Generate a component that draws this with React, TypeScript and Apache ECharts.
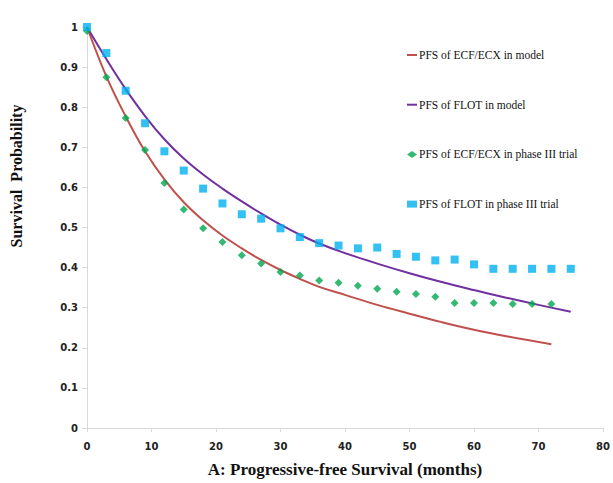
import React, { useEffect, useRef } from "react";
import * as echarts from "echarts";

const ecfModelMonths = [0, 3, 6, 9, 12, 15, 18, 21, 24, 27, 30, 33, 36, 40, 45, 50, 55, 60, 65, 72];
const ecfModelValues = [1.0, 0.877, 0.777, 0.69, 0.62, 0.563, 0.518, 0.48, 0.448, 0.419, 0.394, 0.372, 0.352, 0.332, 0.307, 0.285, 0.264, 0.245, 0.229, 0.209];

const flotModelMonths = [0, 3, 6, 9, 12, 15, 18, 21, 24, 27, 30, 33, 36, 40, 45, 50, 55, 60, 65, 70, 75];
const flotModelValues = [1.0, 0.92, 0.845, 0.778, 0.72, 0.672, 0.632, 0.597, 0.565, 0.535, 0.507, 0.482, 0.46, 0.436, 0.41, 0.386, 0.364, 0.344, 0.325, 0.307, 0.29];

const ecfTrialMonths = [0, 3, 6, 9, 12, 15, 18, 21, 24, 27, 30, 33, 36, 39, 42, 45, 48, 51, 54, 57, 60, 63, 66, 69, 72];
const ecfTrialValues = [0.99, 0.875, 0.773, 0.693, 0.611, 0.545, 0.498, 0.464, 0.431, 0.41, 0.389, 0.38, 0.368, 0.362, 0.355, 0.347, 0.34, 0.334, 0.327, 0.312, 0.312, 0.312, 0.309, 0.309, 0.309];

const flotTrialMonths = [0, 3, 6, 9, 12, 15, 18, 21, 24, 27, 30, 33, 36, 39, 42, 45, 48, 51, 54, 57, 60, 63, 66, 69, 72, 75];
const flotTrialValues = [1.0, 0.935, 0.841, 0.76, 0.69, 0.642, 0.597, 0.56, 0.533, 0.522, 0.498, 0.476, 0.461, 0.455, 0.448, 0.45, 0.434, 0.427, 0.418, 0.42, 0.408, 0.397, 0.397, 0.397, 0.397, 0.397];

const seriesNames = [
  "PFS of ECF/ECX in model",
  "PFS of FLOT in model",
  "PFS of ECF/ECX in phase III trial",
  "PFS of FLOT in phase III trial",
];

const xTitle = "A: Progressive-free Survival (months)";
const yTitle = "Survival  Probability";

const zip = (xs: number[], ys: number[]) => xs.map((x, i) => [x, ys[i]]);

const lineIcon = "path://M0,0 L10,0 L10,2 L0,2 Z";

export default function App() {
  const ref = useRef<HTMLDivElement>(null);
  useEffect(() => {
    if (!ref.current) return;
    const chart = echarts.init(ref.current, undefined, { renderer: "svg" });
    const axisLabel = {
      fontFamily: "DejaVu Sans",
      fontWeight: "bold" as const,
      fontSize: 10,
      color: "#222",
    };
    chart.setOption({
      animation: false,
      backgroundColor: "#fff",
      grid: { left: 87, right: 10, top: 27, bottom: 55 },
      legend: {
        orient: "vertical",
        left: 402,
        top: 44,
        itemGap: 37.7,
        itemWidth: 10,
        itemHeight: 7,
        textStyle: { fontFamily: "Liberation Serif", fontSize: 11.5, color: "#111", padding: [0, 0, 0, -3] },
        data: [
          { name: seriesNames[0], icon: lineIcon },
          { name: seriesNames[1], icon: lineIcon },
          { name: seriesNames[2], icon: "diamond" },
          { name: seriesNames[3], icon: "rect" },
        ],
      },
      graphic: [
        {
          type: "text",
          x: 16,
          y: 176,
          rotation: Math.PI / 2,
          style: {
            text: yTitle,
            fontFamily: "Liberation Serif",
            fontWeight: "bold",
            fontSize: 16,
            fill: "#111",
            textAlign: "center",
            textVerticalAlign: "middle",
          },
        },
      ],
      xAxis: {
        type: "value",
        min: 0,
        max: 80,
        interval: 10,
        name: xTitle,
        nameLocation: "middle",
        nameGap: 33,
        nameTextStyle: {
          fontFamily: "Liberation Serif",
          fontWeight: "bold",
          fontSize: 17,
          color: "#111",
        },
        axisLine: { show: true, lineStyle: { color: "#d9d9d9", width: 1 } },
        axisTick: { show: true, length: 4, lineStyle: { color: "#d9d9d9" } },
        splitLine: { show: false },
        axisLabel: { ...axisLabel, margin: 13 },
      },
      yAxis: {
        type: "value",
        min: 0,
        max: 1,
        interval: 0.1,
        axisLine: { show: true, lineStyle: { color: "#d9d9d9", width: 1 } },
        axisTick: { show: true, length: 5, lineStyle: { color: "#d9d9d9" } },
        splitLine: { show: false },
        axisLabel: { ...axisLabel, margin: 9 },
      },
      series: [
        {
          name: seriesNames[0],
          type: "line",
          data: zip(ecfModelMonths, ecfModelValues),
          smooth: 0.4,
          showSymbol: false,
          symbol: "none",
          lineStyle: { color: "#C0504D", width: 2 },
          itemStyle: { color: "#C0504D" },
          z: 3,
        },
        {
          name: seriesNames[1],
          type: "line",
          data: zip(flotModelMonths, flotModelValues),
          smooth: 0.4,
          showSymbol: false,
          symbol: "none",
          lineStyle: { color: "#7030A0", width: 2 },
          itemStyle: { color: "#7030A0" },
          z: 3,
        },
        {
          name: seriesNames[2],
          type: "scatter",
          data: zip(ecfTrialMonths, ecfTrialValues),
          symbol: "diamond",
          symbolSize: 8,
          itemStyle: { color: "#00A850" },
          z: 4,
        },
        {
          name: seriesNames[3],
          type: "scatter",
          data: zip(flotTrialMonths, flotTrialValues),
          symbol: "rect",
          symbolSize: 8,
          itemStyle: { color: "#00B0F0" },
          z: 4,
        },
      ],
    });
    return () => chart.dispose();
  }, []);
  return (
    <div
      ref={ref}
      style={{ position: "fixed", left: 0, top: 0, width: 613, height: 483 }}
    />
  );
}
